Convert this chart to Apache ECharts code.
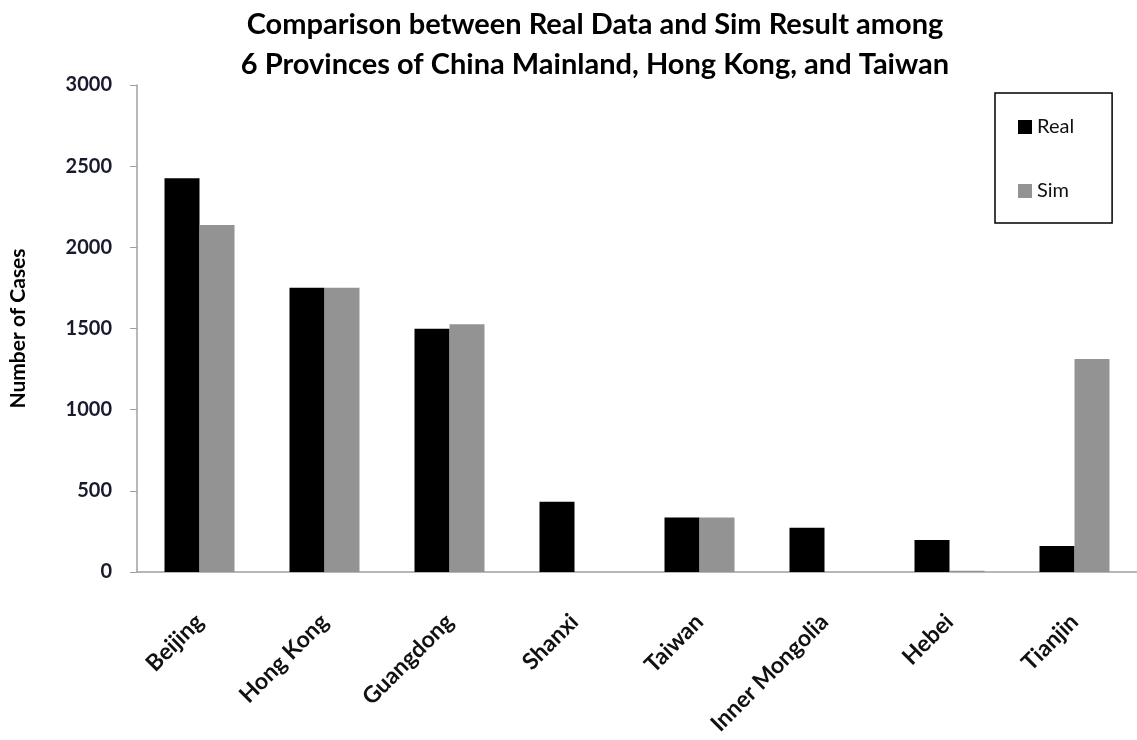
<!DOCTYPE html>
<html>
<head>
<meta charset="utf-8">
<script src="https://cdn.jsdelivr.net/npm/echarts@6/dist/echarts.min.js"></script>
<style>
  html, body { margin: 0; padding: 0; background: #fff; }
  #chart { width: 1137px; height: 740px; }
</style>
</head>
<body>
<div id="chart"></div>
<script>
// 省份（类目）
var provinces = ['Beijing', 'Hong Kong', 'Guangdong', 'Shanxi', 'Taiwan', 'Inner Mongolia', 'Hebei', 'Tianjin'];
// 真实数据
var realData = [2425, 1751, 1499, 433, 335, 273, 197, 160];
// 模拟结果
var simData = [2137, 1751, 1526, 0, 335, 0, 8, 1312];
var yTicks = [0, 500, 1000, 1500, 2000, 2500, 3000];

var font = 'Lato, "Open Sans", sans-serif';
var myChart = echarts.init(document.getElementById('chart'));
myChart.setOption({
    animation: false,
    title: {
        text: 'Comparison between Real Data and Sim Result among\n6 Provinces of China Mainland, Hong Kong, and Taiwan',
        left: 590,
        top: 0,
        textAlign: 'center',
        textStyle: {
            fontFamily: font,
            fontSize: 29,
            fontWeight: 'bold',
            color: '#000',
            lineHeight: 40
        }
    },
    legend: {
        orient: 'vertical',
        left: 995,
        top: 93,
        data: ['Real', 'Sim'],
        borderColor: '#000',
        borderWidth: 1.5,
        padding: [24, 38, 22, 23],
        itemGap: 44,
        itemWidth: 14,
        itemHeight: 14,
        icon: 'rect',
        textStyle: { fontFamily: font, fontSize: 20, color: '#111' }
    },
    grid: {
        left: 135,
        top: 85,
        width: 1008,
        height: 487
    },
    xAxis: {
        type: 'category',
        data: provinces,
        axisLine: { lineStyle: { color: '#a0a0a0', width: 1.5 } },
        axisTick: { length: 8, lineStyle: { color: '#a0a0a0' } },
        axisLabel: {
            rotate: 45,
            interval: 0,
            margin: 46,
            fontFamily: font,
            fontSize: 23,
            fontWeight: 'bold',
            color: '#111'
        }
    },
    yAxis: {
        type: 'value',
        min: yTicks[0],
        max: yTicks[yTicks.length - 1],
        interval: 500,
        name: 'Number of Cases',
        nameLocation: 'middle',
        nameGap: 108,
        nameTextStyle: { fontFamily: font, fontSize: 21, fontWeight: 'bold', color: '#000' },
        splitLine: { show: false },
        axisLine: { show: true, lineStyle: { color: '#a0a0a0', width: 1.5 } },
        axisTick: { show: true, length: 7, lineStyle: { color: '#a0a0a0' } },
        axisLabel: {
            margin: 25,
            formatter: function (v) { return String(v); },
            fontFamily: font,
            fontSize: 20,
            fontWeight: 'bold',
            color: '#1a1a2e'
        }
    },
    series: [{
        name: 'Real',
        type: 'bar',
        data: realData,
        barWidth: 35,
        barGap: '0%',
        itemStyle: { color: '#000' }
    }, {
        name: 'Sim',
        type: 'bar',
        data: simData,
        barWidth: 35,
        itemStyle: { color: '#939393' }
    }]
});
</script>
</body>
</html>
